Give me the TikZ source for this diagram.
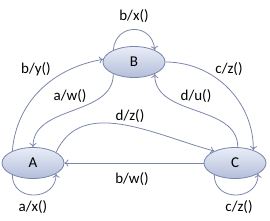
\documentclass[tikz,border=0pt]{standalone}
\usepackage{fontspec}
\setmainfont{Carlito}
\usetikzlibrary{shapes.geometric,arrows.meta}
\definecolor{stateline}{HTML}{7885AD}
\definecolor{statetop}{HTML}{E9EDF7}
\definecolor{statebottom}{HTML}{B3BEDA}
\definecolor{edgeline}{HTML}{7C86AA}
\begin{document}
\begin{tikzpicture}[x=1pt,y=1pt,
    state/.style={ellipse, draw=stateline, thick, top color=statetop, bottom color=statebottom,
        minimum width=62pt, minimum height=31pt, inner sep=0pt, font=\fontsize{15}{17}\selectfont},
    edge/.style={draw=edgeline, thick, -{To[length=4pt,width=7pt]}},
    lbl/.style={font=\fontsize{15}{17}\selectfont}]
    \useasboundingbox (0,0) rectangle (270,220);

    % States
    \node[state] (A) at (33,57) {A};
    \node[state] (B) at (134,158) {B};
    \node[state] (C) at (235,57) {C};

    % Transitions
    \draw[edge] (B.150) to[out=85, in=95, looseness=1.7] (B.30);
    \draw[edge] (A.150) to[out=85, in=190] (B.175);
    \draw[edge] (B.210) to[out=-90, in=90] (A.north);
    \draw[edge] (B.east) to[out=0, in=90] (C.35);
    \draw[edge] (C.80) to[out=90, in=-90] (B.-30);
    \draw[edge] (A.25) to[out=65, in=165] (C.150);
    \draw[edge] (C.west) -- (A.east);
    \draw[edge] (A.210) to[out=-90, in=-90, looseness=1.6] (A.-25);
    \draw[edge] (C.210) to[out=-90, in=-90, looseness=1.6] (C.-25);

    % Labels
    \node[lbl] (lbx) at (134,204) {b/x()};
    \node[lbl] (lby) at (36,151) {b/y()};
    \node[lbl] (law) at (70,124) {a/w()};
    \node[lbl] (lcz) at (229,151) {c/z()};
    \node[lbl] (ldu) at (196,124) {d/u()};
    \node[lbl] (ldz) at (130,104) {d/z()};
    \node[lbl] (lbw) at (132,41) {b/w()};
    \node[lbl] (lax) at (33,13) {a/x()};
    \node[lbl] (lcz2) at (239,13) {c/z()};
\end{tikzpicture}
\end{document}
